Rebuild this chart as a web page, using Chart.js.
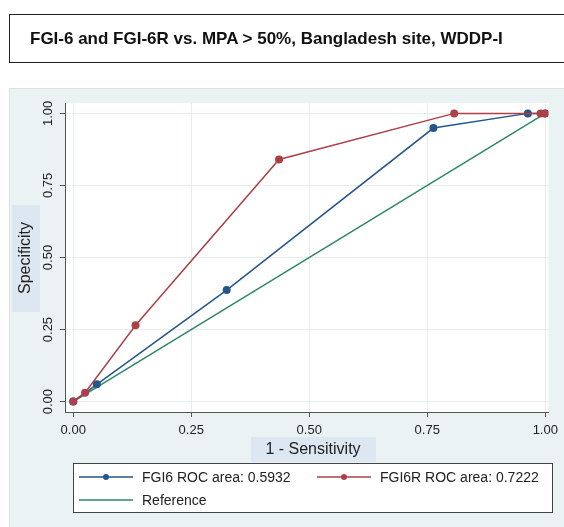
<!DOCTYPE html>
<html>
<head>
<meta charset="utf-8">
<script src="https://cdn.jsdelivr.net/npm/chart.js@4.4.1/dist/chart.umd.min.js"></script>
<style>
  html, body { margin: 0; padding: 0; background: #fff; }
  #wrap { position: relative; width: 564px; height: 527px; overflow: hidden; }
  #rocChart { position: absolute; left: 0; top: 0; }
  #title {
    position: absolute; left: 9px; top: 14px; width: 600px; height: 49px;
    box-sizing: border-box; border: 1.5px solid #222;
    font: bold 17px "Liberation Sans", Arial, sans-serif; color: #111;
    padding-left: 20px; line-height: 48px; white-space: nowrap;
  }
</style>
</head>
<body>
<div id="wrap">
  <canvas id="rocChart" width="564" height="527"></canvas>
  <div id="title">FGI-6 and FGI-6R vs. MPA &gt; 50%, Bangladesh site, WDDP-I</div>
</div>
<script>
// ROC points: x = 1 - Sensitivity, y = Specificity
const fgi6X = [0, 0.05, 0.325, 0.763, 0.963, 1];
const fgi6Y = [0, 0.06, 0.387, 0.949, 1, 1];
const fgi6rX = [0, 0.025, 0.132, 0.436, 0.807, 0.99, 1];
const fgi6rY = [0, 0.031, 0.265, 0.84, 1, 1, 1];
const refX = [0, 1];
const refY = [0, 1];

const seriesLabels = ["FGI6 ROC area: 0.5932", "FGI6R ROC area: 0.7222", "Reference"];
const tickValues = [0, 0.25, 0.5, 0.75, 1];
const tickLabels = ["0.00", "0.25", "0.50", "0.75", "1.00"];

const toPoints = (xs, ys) => xs.map((x, i) => ({ x: x, y: ys[i] }));

const BLUE = "#24568a", RED = "#ac3f48", GREEN = "#2f8668";
const PANEL = "#eaf2f3", LABEL_BG = "#dde7f2";

// ---------------- background, axis titles, legend ----------------
const stataLook = {
    id: "stataLook",
    beforeDraw(chart) {
        const ctx = chart.ctx, a = chart.chartArea;
        ctx.save();
        ctx.fillStyle = PANEL;
        ctx.fillRect(9, 88, 555, 439);
        ctx.strokeStyle = "#d8e2e5";
        ctx.strokeRect(9.5, 88.5, 560, 445);
        ctx.fillStyle = "#fff";
        ctx.fillRect(a.left, a.top, a.right - a.left, a.bottom - a.top);
        ctx.restore();
    },
    afterDraw(chart) {
        const ctx = chart.ctx;
        ctx.save();
        // x axis title
        ctx.fillStyle = LABEL_BG;
        ctx.fillRect(251, 437, 125, 25);
        ctx.fillStyle = "#222";
        ctx.font = '16px "Liberation Sans", Arial, sans-serif';
        ctx.textAlign = "center";
        ctx.textBaseline = "middle";
        ctx.fillText("1 - Sensitivity", 313, 450);
        // y axis title
        ctx.fillStyle = LABEL_BG;
        ctx.fillRect(12, 205, 28, 107);
        ctx.translate(26, 258);
        ctx.rotate(-Math.PI / 2);
        ctx.fillStyle = "#222";
        ctx.fillText("Specificity", 0, 0);
        ctx.restore();

        // legend
        ctx.save();
        ctx.fillStyle = "#fff";
        ctx.fillRect(73, 463, 479, 49);
        ctx.strokeStyle = "#444";
        ctx.lineWidth = 1;
        ctx.strokeRect(73.5, 463.5, 479, 49);
        const slots = [
            { x: 79, y: 477 }, { x: 317, y: 477 }, { x: 79, y: 500 }
        ];
        ctx.font = '14px "Liberation Sans", Arial, sans-serif';
        ctx.textBaseline = "middle";
        chart.data.datasets.forEach((ds, i) => {
            const s = slots[i];
            ctx.strokeStyle = ds.borderColor;
            ctx.lineWidth = 1.5;
            ctx.beginPath();
            ctx.moveTo(s.x, s.y);
            ctx.lineTo(s.x + 54, s.y);
            ctx.stroke();
            if (ds.pointRadius > 0) {
                ctx.fillStyle = ds.borderColor;
                ctx.beginPath();
                ctx.arc(s.x + 27, s.y, 3, 0, Math.PI * 2);
                ctx.fill();
            }
            ctx.fillStyle = "#222";
            ctx.fillText(ds.label, s.x + 63, s.y + 1);
        });
        ctx.restore();
    }
};

const axisCommon = {
    type: "linear",
    afterBuildTicks: scale => { scale.ticks = tickValues.map(v => ({ value: v })); },
    grid: { color: "#e6eef0", lineWidth: 1, drawTicks: true, tickLength: 5, tickColor: "#555" },
    border: { display: true, color: "#555", width: 1 }
};

new Chart(document.getElementById("rocChart"), {
    type: "line",
    data: {
        datasets: [
            {
                label: seriesLabels[0], data: toPoints(fgi6X, fgi6Y),
                borderColor: BLUE, backgroundColor: BLUE, borderWidth: 1.5,
                pointRadius: 4, pointBorderWidth: 0, order: 1
            },
            {
                label: seriesLabels[1], data: toPoints(fgi6rX, fgi6rY),
                borderColor: RED, backgroundColor: RED, borderWidth: 1.5,
                pointRadius: 4, pointBorderWidth: 0, order: 0
            },
            {
                label: seriesLabels[2], data: toPoints(refX, refY),
                borderColor: GREEN, backgroundColor: GREEN, borderWidth: 1.5,
                pointRadius: 0, order: 2
            }
        ]
    },
    options: {
        responsive: false,
        animation: false,
        devicePixelRatio: 1,
        layout: { padding: { left: 0, top: 103, right: 11, bottom: 0 } },
        plugins: { legend: { display: false }, tooltip: { enabled: false } },
        elements: { line: { tension: 0, fill: false } },
        scales: {
            x: Object.assign({}, axisCommon, {
                min: -0.0175, max: 1.0065,
                afterFit: s => { s.height = 115; },
                ticks: {
                    autoSkip: false, maxRotation: 0, padding: 6, color: "#222",
                    font: { family: '"Liberation Sans", Arial, sans-serif', size: 13 },
                    callback: (v, i) => tickLabels[i]
                }
            }),
            y: Object.assign({}, axisCommon, {
                min: -0.036, max: 1.036,
                afterFit: s => { s.width = 65; },
                ticks: {
                    autoSkip: false, minRotation: 90, maxRotation: 90, padding: -1,
                    crossAlign: "center", color: "#222",
                    font: { family: '"Liberation Sans", Arial, sans-serif', size: 13 },
                    callback: (v, i) => tickLabels[i]
                }
            })
        }
    },
    plugins: [stataLook]
});
</script>
</body>
</html>
